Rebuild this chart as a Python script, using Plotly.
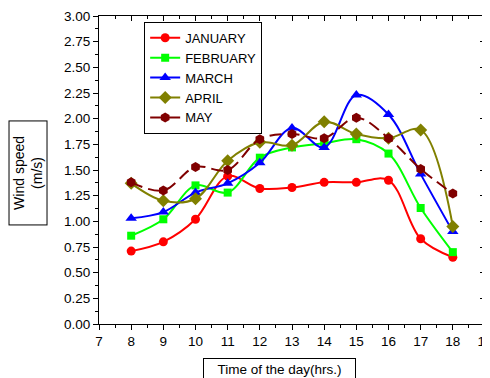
import plotly.graph_objects as go

hours = [8, 9, 10, 11, 12, 13, 14, 15, 16, 17, 18]
january = [0.71, 0.80, 1.02, 1.44, 1.32, 1.33, 1.38, 1.38, 1.40, 0.83, 0.65]
february = [0.86, 1.02, 1.35, 1.28, 1.62, 1.72, 1.76, 1.80, 1.66, 1.13, 0.70]
march = [1.03, 1.09, 1.28, 1.37, 1.57, 1.91, 1.72, 2.23, 2.04, 1.46, 0.90]
april = [1.37, 1.20, 1.22, 1.59, 1.77, 1.74, 1.97, 1.85, 1.81, 1.89, 0.95]
may = [1.38, 1.30, 1.53, 1.50, 1.80, 1.85, 1.81, 2.01, 1.81, 1.51, 1.27]

series = [
    ("JANUARY", january, "#FF0000", "circle", "solid", 9),
    ("FEBRUARY", february, "#00FF00", "square", "solid", 8),
    ("MARCH", march, "#0000FF", "triangle-up", "solid", 10),
    ("APRIL", april, "#808000", "diamond", "solid", 10),
    ("MAY", may, "#800000", "hexagon", "12px,6px", 10),
]

FONT = "Liberation Sans"

fig = go.Figure()
for name, vals, color, sym, dash, size in series:
    fig.add_trace(go.Scatter(
        x=hours, y=vals, name=name, mode="lines+markers",
        line=dict(color=color, width=2, shape="spline", smoothing=1, dash=dash),
        marker=dict(symbol=sym, size=size, color=color),
    ))

# helper (empty) trace so the mirrored top/right axes with inward ticks are drawn
fig.add_trace(go.Scatter(x=[], y=[], xaxis="x2", yaxis="y2", showlegend=False, hoverinfo="skip"))

common = dict(showline=True, linecolor="black", linewidth=1.2, showgrid=False, zeroline=False,
              automargin=False)

fig.update_layout(
    width=490, height=378,
    margin=dict(l=91, r=13, t=8, b=62),
    paper_bgcolor="white", plot_bgcolor="white",
    font=dict(family=FONT, size=13.5, color="black"),
    showlegend=True,
    legend=dict(
        x=0.117, y=0.981, xanchor="left", yanchor="top",
        bgcolor="white", bordercolor="black", borderwidth=1,
        font=dict(family=FONT, size=13, color="black"),
        itemwidth=30, tracegroupgap=0,
    ),
    xaxis=dict(
        range=[7, 19], tick0=7, dtick=1, ticks="outside", ticklen=5, tickwidth=1, tickcolor="black",
        minor=dict(dtick=0.5, ticks="outside", ticklen=3, tickcolor="black"),
        tickfont=dict(family=FONT, size=13.5), ticklabeloverflow="allow", **common,
    ),
    yaxis=dict(
        range=[0, 3], tick0=0, dtick=0.25, tickformat=".2f", ticks="outside", ticklen=5, tickwidth=1,
        tickcolor="black",
        minor=dict(dtick=0.125, ticks="outside", ticklen=3, tickcolor="black"),
        tickfont=dict(family=FONT, size=13.5), ticklabeloverflow="allow", **common,
    ),
    xaxis2=dict(
        range=[7, 19], tick0=7, dtick=1, overlaying="x", side="top", anchor="y2",
        ticks="inside", ticklen=5, tickcolor="black", showticklabels=False,
        minor=dict(dtick=0.5, ticks="inside", ticklen=3, tickcolor="black"), **common,
    ),
    yaxis2=dict(
        range=[0, 3], tick0=0, dtick=0.25, overlaying="y", side="right", anchor="x2",
        ticks="inside", ticklen=5, tickcolor="black", showticklabels=False,
        minor=dict(dtick=0.125, ticks="inside", ticklen=3, tickcolor="black"), **common,
    ),
    annotations=[
        dict(text="Wind speed<br>(m/s)", textangle=-90, xref="paper", yref="paper",
             x=-0.184, y=0.492, xanchor="center", yanchor="middle", showarrow=False,
             font=dict(family=FONT, size=14, color="black"),
             bordercolor="black", borderwidth=1, borderpad=0, bgcolor="white",
             width=103, height=37),
        dict(text="Time of the day(hrs.)", xref="paper", yref="paper",
             x=0.4676, y=-0.149, xanchor="center", yanchor="middle", showarrow=False,
             font=dict(family=FONT, size=13.5, color="black"),
             bordercolor="black", borderwidth=1, borderpad=0, bgcolor="white",
             width=151, height=21),
    ],
)

fig.write_html("out.html")
